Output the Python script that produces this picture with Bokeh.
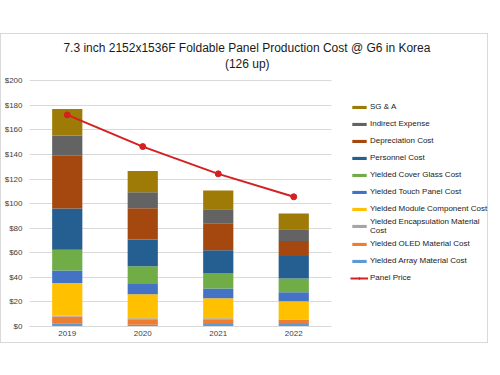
from bokeh.plotting import figure
from bokeh.models import (ColumnDataSource, Legend, LegendItem, NumeralTickFormatter, FixedTicker,
                          Range1d, Label, BoxAnnotation)
from bokeh.embed import file_html
from bokeh.resources import INLINE

years = ["2019", "2020", "2021", "2022"]
array_cost = [2.7, 1.5, 2.0, 2.0]
oled_cost = [5.4, 4.5, 4.0, 3.5]
encap_cost = [0.9, 0.8, 0.8, 0.5]
module_cost = [26.5, 19.5, 16.2, 14.6]
touch_cost = [10.0, 8.4, 7.9, 7.3]
cover_cost = [17.0, 14.4, 12.2, 11.2]
personnel_cost = [33.5, 21.7, 19.0, 18.4]
depreciation_cost = [43.5, 25.5, 22.0, 12.2]
indirect_cost = [16.0, 13.0, 11.4, 9.5]
sga_cost = [21.5, 17.4, 15.2, 12.8]
panel_price = [172.3, 146.5, 124.3, 105.6]

title_lines = ["7.3 inch 2152x1536F  Foldable Panel Production Cost @ G6  in Korea", "(126 up)"]

series_keys = ["array", "oled", "encap", "module", "touch", "cover",
               "personnel", "depreciation", "indirect", "sga"]
series_labels = ["Yielded Array Material Cost", "Yielded OLED Material Cost",
                 "Yielded Encapsulation Material\nCost", "Yielded Module Component Cost",
                 "Yielded Touch Panel Cost", "Yielded Cover Glass Cost",
                 "Personnel Cost", "Depreciation Cost", "Indirect Expense", "SG & A"]
series_colors = ["#5B9BD5", "#ED7D31", "#A5A5A5", "#FFC000", "#4472C4", "#70AD47",
                 "#255E91", "#A5480F", "#636363", "#9E7B06"]

xpos = [i + 0.5 for i in range(len(years))]
n_cat = len(years)

source = ColumnDataSource(dict(
    x=xpos, array=array_cost, oled=oled_cost, encap=encap_cost, module=module_cost,
    touch=touch_cost, cover=cover_cost, personnel=personnel_cost,
    depreciation=depreciation_cost, indirect=indirect_cost, sga=sga_cost,
    price=panel_price))

FONT = "Liberation Sans"
W, H = 488, 310
ML, MR, MT, MB = 28, 0, 4, 18
cat_px = 75.5
frame_w = W - ML - MR
# vertical scale: 200.3 units over 246 px; the frame extends above to hold the title
px_per_unit = 246 / 200.3
y_top = 200.3 + (46 - MT) / px_per_unit

p = figure(x_range=Range1d(0, frame_w / cat_px), y_range=Range1d(0, y_top),
           width=W, height=H, output_backend="svg", toolbar_location=None,
           min_border_left=ML, min_border_right=MR, min_border_top=MT, min_border_bottom=MB,
           title=None)
p.outline_line_color = None
p.margin = (33, 0, 0, 0)
p.styles = {"border": "1px solid #d9d9d9"}

bars = p.vbar_stack(series_keys, x="x", width=0.4, source=source,
                    color=series_colors, line_width=0)
line = p.line(x="x", y="price", source=source, color="#d42020", line_width=2)
dots = p.scatter(x="x", y="price", source=source, size=6, color="#d42020")

# white mask so gridlines stop at the end of the category area
p.add_layout(BoxAnnotation(left=n_cat, fill_color="white", fill_alpha=1.0,
                           line_color=None, line_alpha=0))

# two-line title placed in the space above $200
title_x1 = (250.5 - 29.75) / cat_px
title_x2 = (247.5 - 29.75) / cat_px
title_y1 = 200.3 + (80 - 47) / px_per_unit
title_y2 = 200.3 + (80 - 63) / px_per_unit
p.add_layout(Label(x=title_x1, y=title_y1, text=title_lines[0], text_align="center",
                   text_baseline="middle", text_font=FONT, text_font_size="12px",
                   text_color="#1a1a1a"))
p.add_layout(Label(x=title_x2, y=title_y2, text=title_lines[1], text_align="center",
                   text_baseline="middle", text_font=FONT, text_font_size="12px",
                   text_color="#1a1a1a"))

items = [LegendItem(label=series_labels[i], renderers=[bars[i]]) for i in range(len(bars) - 1, -1, -1)]
items.append(LegendItem(label="Panel Price", renderers=[line, dots]))
legend = Legend(items=items, location=(321, 40))
legend.glyph_width = 18
legend.glyph_height = 4
legend.label_height = 17
legend.label_standoff = 2
legend.spacing = 0
legend.padding = 0
legend.margin = 0
legend.border_line_color = None
legend.background_fill_alpha = 0
legend.label_text_font = FONT
legend.label_text_font_size = "8px"
legend.label_text_color = "#1a1a1a"
legend.label_text_line_height = 0.85
p.add_layout(legend, "center")

p.yaxis.ticker = FixedTicker(ticks=list(range(0, 201, 20)))
p.yaxis.formatter = NumeralTickFormatter(format="$0")
p.xaxis.ticker = FixedTicker(ticks=xpos)
p.xaxis.major_label_overrides = {x: y for x, y in zip(xpos, years)}
for ax in (p.xaxis, p.yaxis):
    ax.axis_line_color = None
    ax.major_tick_line_color = None
    ax.minor_tick_line_color = None
    ax.major_tick_out = 0
    ax.major_tick_in = 0
    ax.major_label_text_font = FONT
    ax.major_label_text_font_size = "8px"
    ax.major_label_text_color = "#404040"
p.xaxis.axis_line_color = "#d9d9d9"
p.xaxis.bounds = (0, n_cat)
p.yaxis.major_label_standoff = 7
p.xaxis.major_label_standoff = 4

p.xgrid.grid_line_color = None
p.ygrid.grid_line_color = "#d9d9d9"
p.ygrid.ticker = FixedTicker(ticks=list(range(0, 201, 20)))

open("out.html", "w").write(file_html(p, INLINE))
